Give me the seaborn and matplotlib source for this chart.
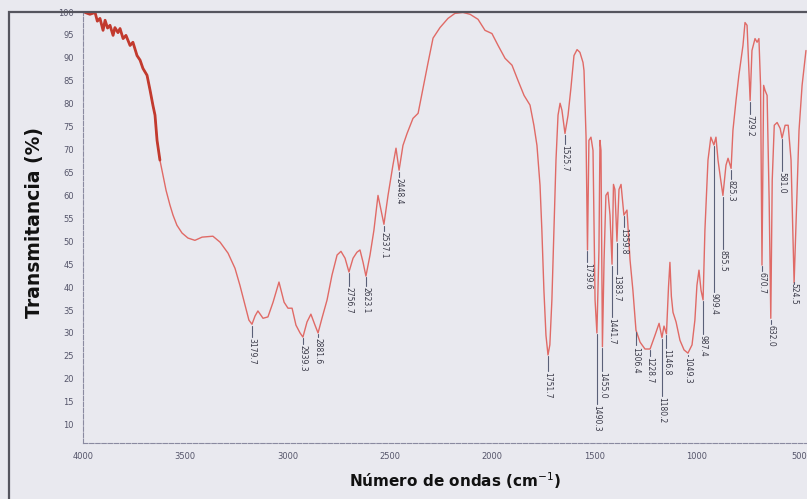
import numpy as np
import pandas as pd
import matplotlib
matplotlib.use("Agg")
import matplotlib.pyplot as plt
from matplotlib.patches import Rectangle
import seaborn as sns

# ---- spectrum data (wavenumber cm-1, transmittance %) ----
wavenumber = [3990, 3966, 3941, 3930, 3917, 3902, 3892, 3880, 3868, 3853, 3844, 3829, 3819,
              3804, 3790, 3770, 3756, 3736, 3721, 3707, 3687, 3672, 3658, 3648, 3638, 3624,
              3609, 3594, 3575, 3560, 3541, 3516, 3487, 3453, 3418, 3365, 3330, 3291, 3257,
              3233, 3208, 3189, 3174, 3159, 3145, 3120, 3096, 3071, 3042, 3017, 2998, 2978,
              2959, 2939, 2925, 2905, 2886, 2866, 2851, 2832, 2807, 2783, 2758, 2739, 2719,
              2700, 2680, 2661, 2646, 2631, 2617, 2597, 2578, 2558, 2543, 2529, 2509, 2485,
              2470, 2455, 2436, 2416, 2387, 2362, 2338, 2314, 2289, 2255, 2216, 2182, 2143,
              2108, 2069, 2035, 2001, 1971, 1937, 1903, 1874, 1844, 1815, 1796, 1781, 1766,
              1757, 1747, 1737, 1727, 1718, 1708, 1698, 1688, 1678, 1668, 1659, 1644, 1629,
              1615, 1600, 1585, 1571, 1556, 1551, 1541, 1534, 1527, 1517, 1507, 1497, 1488,
              1478, 1473, 1468, 1461, 1453, 1444, 1434, 1424, 1414, 1407, 1400, 1390, 1380,
              1370, 1356, 1341, 1326, 1312, 1297, 1277, 1253, 1228, 1204, 1184, 1170, 1160,
              1148, 1138, 1131, 1124, 1116, 1101, 1082, 1062, 1043, 1023, 1009, 999, 989,
              979, 969, 960, 945, 931, 916, 906, 896, 886, 872, 857, 847, 832, 823, 808,
              794, 774, 764, 754, 744, 739, 730, 715, 705, 696, 688, 681, 673, 666, 656,
              646, 638, 631, 621, 607, 592, 583, 568, 553, 539, 529, 524, 514, 500, 485, 466]
transmittance = [99.9, 99.5, 99.9, 98.0, 98.6, 96.0, 98.2, 96.5, 97.1, 94.9, 96.6, 95.5, 96.4,
                 94.2, 94.9, 92.7, 93.4, 90.5, 89.5, 87.7, 86.2, 82.9, 79.6, 77.5, 72.0, 67.7,
                 64.4, 61.1, 57.9, 55.7, 53.5, 51.8, 50.7, 50.2, 50.9, 51.1, 49.8, 47.4, 44.1,
                 40.4, 36.1, 32.8, 31.9, 33.7, 34.8, 33.2, 33.5, 36.7, 41.1, 36.7, 35.4, 35.4,
                 31.7, 30.0, 29.1, 32.4, 34.1, 31.7, 30.0, 33.2, 37.2, 42.6, 47.0, 47.8, 46.3,
                 43.3, 46.3, 47.6, 48.1, 45.4, 42.4, 47.0, 52.4, 60.0, 56.7, 53.7, 60.0, 66.6,
                 70.3, 65.5, 70.9, 73.5, 76.8, 77.9, 83.4, 88.8, 94.3, 96.6, 98.6, 99.7, 99.9,
                 99.5, 98.4, 96.0, 95.3, 92.7, 89.9, 88.4, 85.1, 81.8, 79.7, 75.3, 70.9, 62.2,
                 52.4, 39.3, 29.5, 25.2, 27.4, 37.2, 52.4, 67.7, 77.5, 80.1, 78.6, 73.5, 77.5,
                 83.4, 90.5, 91.8, 91.2, 89.0, 87.2, 72.7, 48.1, 72.0, 72.7, 69.8, 37.2, 30.0,
                 48.1, 72.0, 69.8, 27.0, 45.9, 60.0, 60.7, 55.7, 45.0, 62.4, 61.3, 50.0, 61.3,
                 62.4, 55.7, 56.8, 45.9, 39.3, 30.6, 28.0, 26.5, 26.5, 29.5, 32.1, 29.0, 31.5,
                 29.8, 40.0, 45.4, 38.0, 34.5, 32.4, 28.4, 26.3, 25.6, 27.4, 32.8, 40.4, 43.7,
                 39.3, 37.2, 52.4, 67.7, 72.7, 71.0, 72.7, 67.7, 64.4, 60.0, 66.6, 68.1, 65.9,
                 74.2, 80.7, 86.2, 92.7, 97.7, 97.1, 86.2, 80.7, 91.6, 94.2, 93.4, 94.2, 84.0,
                 44.8, 84.0, 82.9, 81.8, 59.0, 33.2, 63.3, 75.3, 75.9, 74.6, 72.5, 75.3, 75.3,
                 67.7, 50.2, 40.9, 54.6, 74.2, 84.0, 91.6]

# ---- peak annotations ----
peak_wn = [3174, 2925, 2851, 2700, 2617, 2529, 2455, 1727, 1644, 1534, 1488, 1461, 1414,
           1390, 1356, 1297, 1228, 1170, 1148, 1043, 969, 916, 872, 832, 739, 681, 638,
           583, 524]
peak_text = ["3179.7", "2939.3", "2881.6", "2756.7", "2623.1", "2537.1", "2448.4", "1751.7",
             "1525.7", "1739.6", "1490.3", "1455.0", "1441.7", "1383.7", "1359.8", "1306.4",
             "1228.7", "1180.2", "1146.8", "1049.3", "987.4", "909.4", "855.5", "825.3",
             "729.2", "670.7", "632.0", "581.0", "524.5"]
peak_label_T = [28.9, 27.4, 28.9, 40.0, 40.0, 52.0, 63.7, 21.5, 71.0, 45.2, 14.3, 21.5, 33.2,
                42.6, 52.8, 27.0, 24.7, 16.0, 26.5, 24.7, 29.5, 38.7, 48.0, 63.3, 77.5, 43.3,
                31.7, 65.0, 40.9]

x_ticks = [4000, 3500, 3000, 2500, 2000, 1500, 1000, 500]
y_ticks = list(range(10, 101, 5))

df = pd.DataFrame({"wn": wavenumber, "T": transmittance})

bg = "#e9e9ef"
sns.set_theme(style="white")
plt.rcParams["font.family"] = ["DejaVu Sans"]

fig = plt.figure(figsize=(8.07, 4.99), dpi=100, facecolor=bg)
ax = fig.add_axes([83 / 807, 56 / 499, 724 / 807, 431 / 499])
ax.set_facecolor(bg)

sns.lineplot(data=df, x="wn", y="T", ax=ax, color="#e06a66", lw=1.0,
             sort=False, estimator=None)
noisy = df[df["wn"] >= 3620]
sns.lineplot(data=noisy, x="wn", y="T", ax=ax, color="#c23a2e", lw=2.0,
             sort=False, estimator=None)

# leaders + labels
wn_asc = np.array(wavenumber)[::-1]
T_asc = np.array(transmittance)[::-1]
for w, txt, lt in zip(peak_wn, peak_text, peak_label_T):
    ct = np.interp(w, wn_asc, T_asc)
    ax.plot([w, w], [ct - 0.3, lt + 0.3], color="#5a6078", lw=0.8)
    ax.text(w, lt, txt, rotation=270, ha="center", va="top", fontsize=5.5,
            color="#3a3a48")

ax.set_xlim(4000, 461)
ax.set_ylim(6, 100)
ax.set_xticks(x_ticks)
ax.set_yticks(y_ticks)
ax.set_xticks(np.arange(4000, 460, -100), minor=True)
ax.set_yticks(np.arange(6, 101, 1), minor=True)
ax.tick_params(axis="both", which="major", labelsize=6, colors="#55556a",
               length=3, width=0.7, direction="out")
ax.tick_params(axis="both", which="minor", length=1.5, width=0.5, color="#8888a0")
for s in ["top", "right"]:
    ax.spines[s].set_visible(False)
for s in ["left", "bottom"]:
    ax.spines[s].set_color("#8a8aa0")
    ax.spines[s].set_linewidth(0.8)
    ax.spines[s].set_linestyle((0, (4, 1.5)))
ax.set_xlabel("")
ax.set_ylabel("")

fig.text(35 / 807, 1 - 222 / 499, "Transmitancia (%)", rotation=90, ha="center",
         va="center", fontsize=13.5, fontweight="bold", color="#111111")
fig.text(455 / 807, 1 - 481 / 499, "Número de ondas (cm$^{-1}$)", ha="center",
         va="center", fontsize=11, fontweight="bold", color="#111111")

fig.add_artist(Rectangle((8.5 / 807, -0.02), 1.2, (499 - 12) / 499 + 0.02,
                         transform=fig.transFigure, fill=False, ec="#55555e", lw=1.6))

fig.savefig("out.png", dpi=100, facecolor=bg)
